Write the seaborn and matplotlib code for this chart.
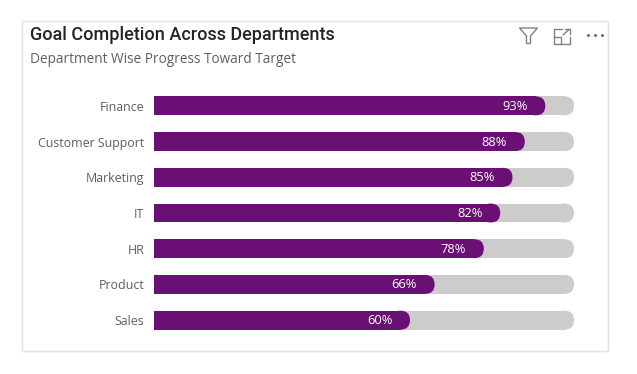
import pandas as pd
import seaborn as sns
from matplotlib import pyplot as plt
from matplotlib.patches import FancyBboxPatch, Polygon

departments = ["Finance", "Customer Support", "Marketing", "IT", "HR", "Product", "Sales"]
completion = [93, 88, 85, 82, 78, 66, 60]
target = [100, 100, 100, 100, 100, 100, 100]

TITLE = "Goal Completion Across Departments"
SUBTITLE = "Department Wise Progress Toward Target"

PURPLE = "#6a0f74"
TRACK = "#cccccc"
W, H = 637, 374
X_MIN = -2.44  # the axis starts a little below zero


def rounded_end(ax, bar, color):
    """Stretch a seaborn bar to the axis start and put a rounded cap on its right end."""
    y, w, h = bar.get_y(), bar.get_width(), bar.get_height()
    # data units per pixel, so the cap comes out round
    bbox = ax.get_window_extent()
    x_unit = (100 - X_MIN) / bbox.width
    y_unit = 7 / bbox.height
    r = h / y_unit / 2 * x_unit
    bar.set_x(X_MIN)
    bar.set_width(w - r - X_MIN)
    ax.add_patch(FancyBboxPatch((w - 2 * r, y), 2 * r, h,
                                boxstyle=f"round,pad=0,rounding_size={r}",
                                mutation_aspect=y_unit / x_unit,
                                fc=color, ec="none", zorder=bar.get_zorder()))


sns.set_theme(style="white")
plt.rcParams['font.family'] = ['Open Sans', 'DejaVu Sans']

fig = plt.figure(figsize=(W / 100, H / 100), dpi=100)

# page layer in pixel coordinates: card frame and header icons
bg = fig.add_axes([0, 0, 1, 1])
bg.set_xlim(0, W)
bg.set_ylim(H, 0)
bg.axis("off")
bg.add_patch(FancyBboxPatch((22.5, 21.5), 586, 330, boxstyle="round,pad=0,rounding_size=1.5",
                            fc="white", ec="#e4e4e4", lw=1.2))
bg.text(30, 34.5, TITLE, fontsize=13, family="Roboto", color="#252423", va="center",
        fontweight="medium")
bg.text(30, 59.5, SUBTITLE, fontsize=9.77, color="#605e5c", va="center")

# filter icon
bg.add_patch(Polygon([(519.5, 28), (537.5, 28), (530.5, 36), (530.5, 43.5), (526.5, 43.5), (526.5, 36)],
                     closed=True, fc="none", ec="#808080", lw=1))
# focus mode icon
bg.plot([553.5, 553.5, 569.5, 569.5], [29, 43.5, 43.5, 36.5], color="#808080", lw=1)
bg.plot([553.5, 562], [29, 29], color="#808080", lw=1)
bg.plot([553.5, 561, 561], [37, 37, 43.5], color="#808080", lw=1)
bg.plot([563, 569], [35, 29.5], color="#808080", lw=1)
bg.plot([565, 569.5, 569.5], [29, 29, 33.5], color="#808080", lw=1)
# more options
bg.scatter([587.5, 595, 602], [34.5, 34.5, 34.5], s=4.5, color="#666666", linewidths=0)

# bars
ax = fig.add_axes([154 / W, 1 - 338 / H, 420 / W, 250 / H])
ax.patch.set_alpha(0)
df = pd.DataFrame({"department": departments, "completion": completion, "target": target})
sns.barplot(data=df, y="department", x="target", color=TRACK, saturation=1, width=0.53, linewidth=0, ax=ax)
sns.barplot(data=df, y="department", x="completion", color=PURPLE, saturation=1, width=0.53, linewidth=0, ax=ax)
ax.set_xlim(X_MIN, 100)
ax.set_ylim(6.5, -0.5)

n = len(departments)
for i, bar in enumerate(list(ax.patches)):
    rounded_end(ax, bar, TRACK if i < n else PURPLE)

for i, v in enumerate(completion):
    ax.annotate(f"{v}%", (v, i), xytext=(-30.5, -0.5), textcoords="offset pixels", ha="center", va="center",
                color="white", fontsize=9.3, zorder=5)

ax.set_xlabel("")
ax.set_ylabel("")
ax.set_xticks([])
ax.tick_params(axis="y", length=0, pad=7, labelsize=8.9, labelcolor="#605e5c")
sns.despine(ax=ax, left=True, bottom=True)

fig.savefig("out.png", dpi=100)
